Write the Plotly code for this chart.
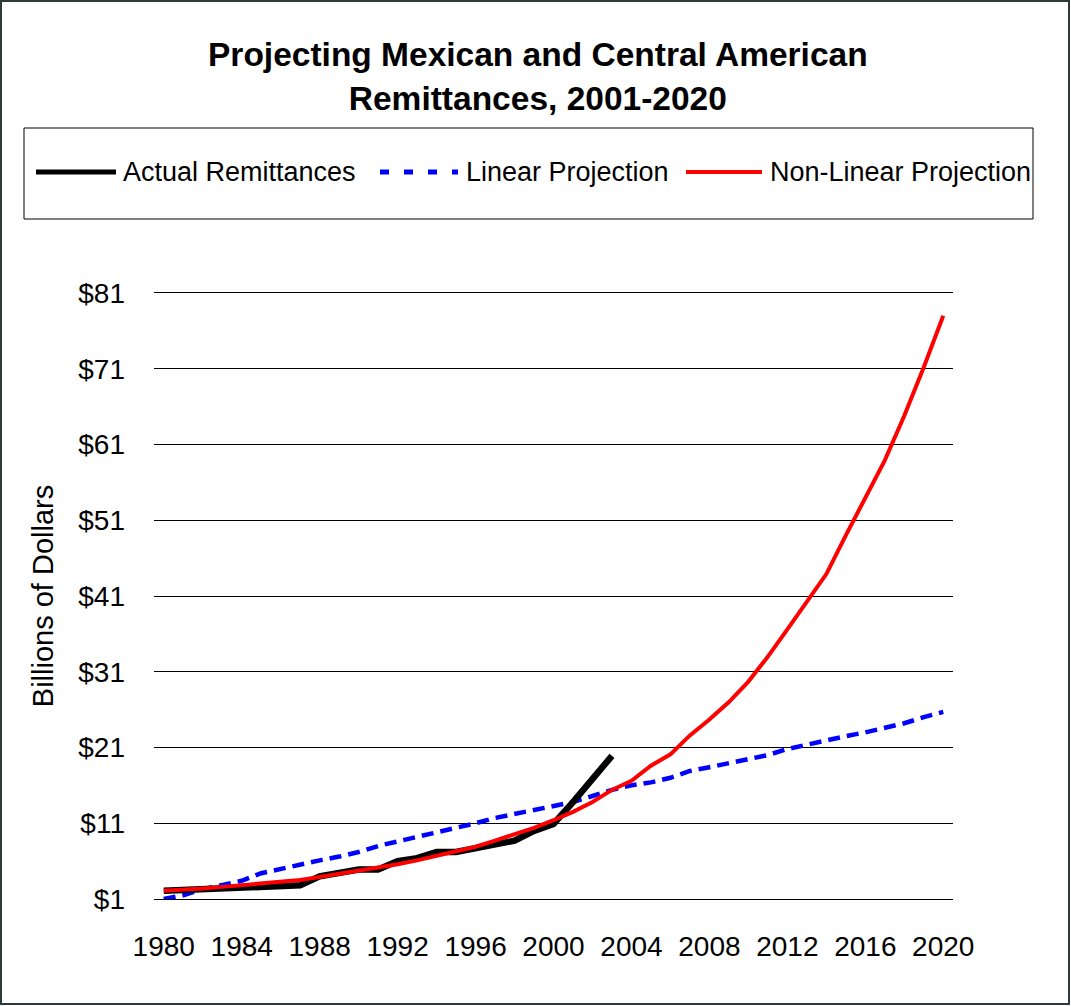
import plotly.graph_objects as go

# ---- data (billions of US dollars) ----
years_actual = list(range(1980, 2004))
actual = [2.1, 2.2, 2.3, 2.3, 2.4, 2.5, 2.6, 2.8, 4.0, 4.4, 4.9, 4.9, 6.0, 6.4,
          7.2, 7.2, 7.7, 8.3, 8.7, 10.0, 10.9, 13.8, 16.7, 19.9]

years_proj = list(range(1980, 2021))
linear = [1.0, 1.5, 2.3, 2.9, 3.4, 4.4, 5.0, 5.5, 6.1, 6.6, 7.2, 8.0, 8.6, 9.1,
          9.8, 10.3, 11.0, 11.7, 12.2, 12.7, 13.3, 13.8, 14.6, 15.4, 16.0, 16.4,
          17.0, 17.9, 18.4, 18.9, 19.4, 20.0, 20.8, 21.4, 22.0, 22.5, 23.0, 23.6,
          24.2, 25.0, 25.7]
nonlinear = [2.1, 2.2, 2.4, 2.6, 2.8, 3.0, 3.2, 3.5, 3.9, 4.3, 4.7, 5.2, 5.6, 6.1,
             6.7, 7.3, 7.9, 8.7, 9.5, 10.4, 11.4, 12.5, 13.8, 15.4, 16.6, 18.6,
             20.1, 22.6, 24.7, 27.0, 29.7, 33.0, 36.6, 40.2, 43.9, 49.0, 54.0,
             58.9, 64.8, 71.2, 78.0]

y_ticks = list(range(1, 82, 10))
y_ticktext = ["$" + str(v) for v in y_ticks]
x_ticks = list(range(1980, 2021, 4))

series_names = ["Actual Remittances", "Linear Projection", "Non-Linear Projection"]

FONT = "Liberation Sans, Arial, sans-serif"
W, H = 1071, 1006
ML, MR, MT, MB = 154, 118, 293, 107
PW, PH = W - ML - MR, H - MT - MB


def px_x(x):
    return (x - ML) / PW


def px_y(y):
    return (H - MB - y) / PH


fig = go.Figure()
fig.add_trace(go.Scatter(x=years_proj, y=linear, mode="lines", name=series_names[1],
                         line=dict(color="#0000FF", width=4.5, dash="12px,7px"),
                         showlegend=False))
fig.add_trace(go.Scatter(x=years_actual, y=actual, mode="lines", name=series_names[0],
                         line=dict(color="#000000", width=6.5),
                         showlegend=False))
fig.add_trace(go.Scatter(x=years_proj, y=nonlinear, mode="lines", name=series_names[2],
                         line=dict(color="#FF0000", width=4),
                         showlegend=False))

shapes = []
annotations = []

# outer frame
shapes.append(dict(type="rect", xref="paper", yref="paper",
                   x0=px_x(1), x1=px_x(W - 2), y0=px_y(H - 2), y1=px_y(1),
                   line=dict(color="#2f3b3b", width=2), fillcolor="rgba(0,0,0,0)"))

# legend box
shapes.append(dict(type="rect", xref="paper", yref="paper",
                   x0=px_x(24), x1=px_x(1033), y0=px_y(219), y1=px_y(128),
                   line=dict(color="#000000", width=1), fillcolor="rgba(0,0,0,0)"))

leg_y = 172
legend_items = [
    (36, 116, 121, dict(color="#000000", width=5), series_names[0]),
    (380, 458, 464, dict(color="#0000FF", width=5, dash="9px,15px"), series_names[1]),
    (686, 762, 768, dict(color="#FF0000", width=4), series_names[2]),
]
for x0, x1, tx, ln, label in legend_items:
    shapes.append(dict(type="line", xref="paper", yref="paper",
                       x0=px_x(x0), x1=px_x(x1), y0=px_y(leg_y), y1=px_y(leg_y),
                       line=ln))
    annotations.append(dict(xref="paper", yref="paper", x=px_x(tx), y=px_y(leg_y),
                            xanchor="left", yanchor="middle", showarrow=False,
                            text=label, font=dict(family=FONT, size=27, color="#000000")))

# chart title
annotations.append(dict(xref="paper", yref="paper", x=px_x(538), y=px_y(34),
                        xanchor="center", yanchor="top", showarrow=False,
                        text="<b>Projecting Mexican and Central American<br>Remittances, 2001-2020</b>",
                        font=dict(family=FONT, size=33.5, color="#000000")))

fig.update_layout(
    width=W, height=H,
    margin=dict(l=ML, r=MR, t=MT, b=MB, pad=0),
    paper_bgcolor="white", plot_bgcolor="white",
    font=dict(family=FONT, color="#000000"),
    shapes=shapes, annotations=annotations,
    showlegend=False,
)
fig.update_xaxes(range=[1979.5, 2020.5], tickmode="array", tickvals=x_ticks,
                 showgrid=False, zeroline=False, showline=True, mirror=True,
                 linecolor="#000000", linewidth=1, ticks="", ticklabelstandoff=22,
                 tickfont=dict(family=FONT, size=28, color="#000000"))
fig.update_yaxes(range=[1, 81], tickmode="array", tickvals=y_ticks, ticktext=y_ticktext,
                 showgrid=True, gridcolor="#000000", gridwidth=1, zeroline=False,
                 showline=False, ticks="", ticklabelstandoff=28,
                 tickfont=dict(family=FONT, size=28, color="#000000"),
                 title=dict(text="Billions of Dollars", standoff=16,
                            font=dict(family=FONT, size=29, color="#000000")))

fig.write_html("out.html")
